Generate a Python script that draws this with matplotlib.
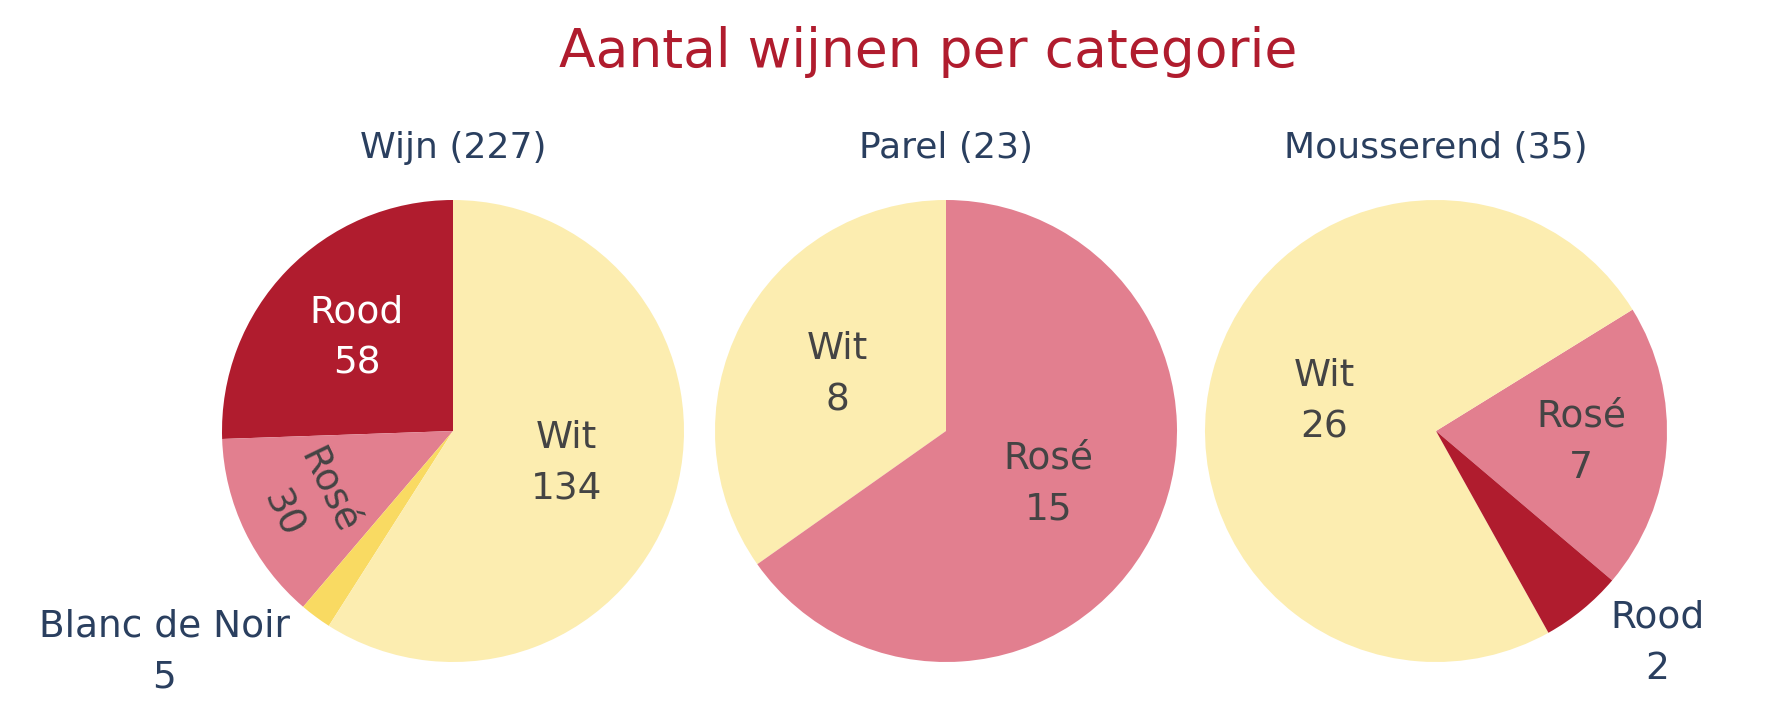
import matplotlib.pyplot as plt
import numpy as np

# Data per categorie (volgorde = tegen de klok in vanaf de startpositie)
categorieen = ['Wijn', 'Parel', 'Mousserend']

wijn_labels = ['Rood', 'Rosé', 'Blanc de Noir', 'Wit']
wijn_aantal = [58, 30, 5, 134]

parel_labels = ['Wit', 'Rosé']
parel_aantal = [8, 15]

mousserend_labels = ['Rosé', 'Wit', 'Rood']
mousserend_aantal = [7, 26, 2]

kleuren = {
    'Rood': '#B01C2E',
    'Rosé': '#E27F8F',
    'Wit': '#FCEDB0',
    'Blanc de Noir': '#F9DA62',
}

# Opmaak per taart: startpositie, straal van de labels (>1 = buiten), gedraaid label
W, H = 1766, 724
cx_list = [453, 946, 1436]
cy = 431
R = 231
start_hoeken = [90, 90, -40.3]
label_straal = [[0.58, 0.71, 1.19, 0.51], [0.53, 0.50], [0.63, 0.50, 1.19]]
label_draai = [[False, True, False, False], [False, False], [False, False, False]]

plt.rcParams['font.family'] = ['DejaVu Sans']

fig = plt.figure(figsize=(W / 100, H / 100), dpi=100)
fig.patch.set_facecolor('white')

alle_labels = [wijn_labels, parel_labels, mousserend_labels]
alle_aantal = [wijn_aantal, parel_aantal, mousserend_aantal]

for i, cat in enumerate(categorieen):
    labels = alle_labels[i]
    aantal = alle_aantal[i]
    cx = cx_list[i]
    ax = fig.add_axes([(cx - R) / W, (H - cy - R) / H, 2 * R / W, 2 * R / H])
    wedges, _ = ax.pie(aantal, colors=[kleuren[l] for l in labels],
                       startangle=start_hoeken[i], counterclock=True, radius=1,
                       wedgeprops=dict(linewidth=0, antialiased=True))
    ax.set_xlim(-1, 1)
    ax.set_ylim(-1, 1)
    ax.set_aspect('equal')
    ax.axis('off')

    # labels in / naast de taartpunten
    for j, w in enumerate(wedges):
        mid = np.deg2rad((w.theta1 + w.theta2) / 2)
        r = label_straal[i][j]
        x, y = r * np.cos(mid), r * np.sin(mid)
        tekst = f'{labels[j]}\n{aantal[j]}'
        if r > 1:
            ax.text(x, y, tekst, ha='left' if x > 0 else 'right', va='center',
                    multialignment='center', fontsize=27, color='#2A3F5F',
                    linespacing=1.55, clip_on=False)
        else:
            kleur = 'white' if labels[j] == 'Rood' else '#444444'
            rot = 0
            if label_draai[i][j]:
                rot = np.rad2deg(mid) - 90
                if rot > 90:
                    rot -= 180
            ax.text(x, y, tekst, ha='center', va='center', multialignment='center',
                    fontsize=27, color=kleur, rotation=rot, linespacing=1.55)

    # subtitel boven elke taart
    fig.text(cx / W, 1 - 158 / H, f'{cat} ({sum(aantal)})', ha='center',
             va='baseline', fontsize=26, color='#2A3F5F')

fig.text(928 / W, 1 - 67 / H, 'Aantal wijnen per categorie', ha='center',
         va='baseline', fontsize=38.5, color='#B01C2E')

plt.savefig('out.png', dpi=100, facecolor='white')
